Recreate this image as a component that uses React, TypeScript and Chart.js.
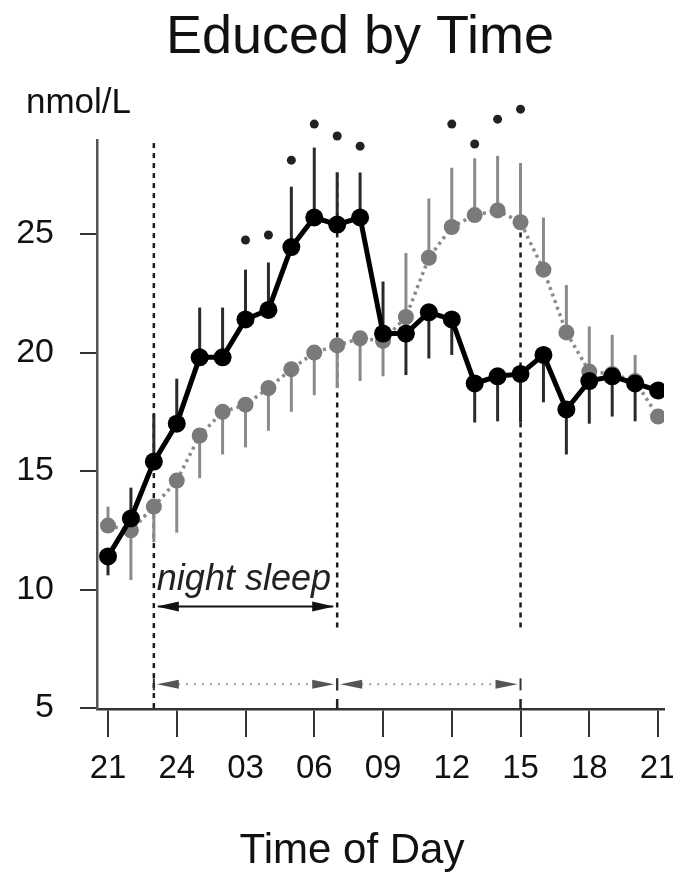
import React, { useEffect, useRef } from "react";
import { Chart, registerables } from "chart.js";

Chart.register(...registerables);

// ---- data ----
const hours = [21, 22, 23, 24, 25, 26, 27, 28, 29, 30, 31, 32, 33, 34, 35, 36, 37, 38, 39, 40, 41, 42, 43, 44, 45];
const xTickHours = [21, 24, 27, 30, 33, 36, 39, 42, 45];
const xTickLabels = ["21", "24", "03", "06", "09", "12", "15", "18", "21"];
const yTickValues = [5, 10, 15, 20, 25];

const groupA = [11.4, 13.0, 15.4, 17.0, 19.8, 19.8, 21.4, 21.8, 24.45, 25.7, 25.4, 25.7, 20.8, 20.8, 21.7, 21.4, 18.7, 19.0, 19.1, 19.9, 17.6, 18.8, 19.0, 18.7, 18.4];
const groupAErrUp = [0, 1.3, 2.0, 1.9, 2.1, 2.1, 2.1, 2.0, 2.55, 2.95, 2.2, 1.9, 2.2, 0, 0, 0, 0, 0, 0, 0, 0, 0, 0, 0, 0];
const groupAErrDown = [0.8, 0, 0, 0, 0, 0, 0, 0, 0, 0, 0, 0, 0, 1.75, 1.95, 1.5, 1.65, 1.9, 2.05, 2.0, 1.9, 1.8, 1.7, 1.6, 0];

const groupB = [12.7, 12.5, 13.5, 14.6, 16.5, 17.5, 17.8, 18.5, 19.3, 20.0, 20.3, 20.6, 20.5, 21.5, 24.0, 25.3, 25.8, 26.0, 25.5, 23.5, 20.85, 19.2, 19.1, 18.8, 17.3];
const groupBErrUp = [0.8, 0, 0, 0, 0, 0, 0, 0, 0, 0, 0, 0, 0, 2.7, 2.5, 2.5, 2.4, 2.3, 2.5, 2.2, 2.0, 1.9, 1.65, 1.1, 0];
const groupBErrDown = [0, 2.1, 1.5, 2.2, 1.8, 1.8, 1.8, 1.8, 1.8, 1.8, 1.8, 1.8, 1.5, 0, 0, 0, 0, 0, 0, 0, 0, 0, 0, 0, 0];

const sigHours = [27, 28, 29, 30, 31, 32, 36, 37, 38, 39];
const sigValues = [24.75, 24.96, 28.12, 29.64, 29.14, 28.71, 29.64, 28.8, 29.85, 30.27];

const refHours = [23, 31, 39];
const refTop = [28.84, 27.6, 27.6];
const refBottom = [4.96, 8.31, 8.31];

const sleepLabel = "night sleep";
const sleepArrowValue = 9.28;
const sleepTextValue = 10.0;
const periodArrowValue = 6.0;
const periodStarts = [23, 31];
const periodEnds = [31, 39];

const FONT = '"Liberation Sans", Arial, Helvetica, sans-serif';

function arrowHead(ctx: CanvasRenderingContext2D, tipX: number, tipY: number, dir: number, len: number, half: number) {
  ctx.beginPath();
  ctx.moveTo(tipX, tipY);
  ctx.lineTo(tipX - dir * len, tipY - half);
  ctx.lineTo(tipX - dir * len, tipY + half);
  ctx.closePath();
  ctx.fill();
}

const annotPlugin = {
  id: "annot",
  beforeDatasetsDraw(chart: any) {
    const { ctx, scales } = chart;
    const x = scales.x;
    const y = scales.y;
    ctx.save();
    // dashed reference lines
    ctx.strokeStyle = "#1a1a1a";
    ctx.lineWidth = 2.5;
    ctx.setLineDash([5, 5]);
    refHours.forEach((h, i) => {
      const px = x.getPixelForValue(h);
      ctx.beginPath();
      ctx.moveTo(px, y.getPixelForValue(refTop[i]));
      ctx.lineTo(px, y.getPixelForValue(refBottom[i]));
      ctx.stroke();
    });
    ctx.setLineDash([]);
    // error bars
    const drawBars = (vals: number[], up: number[], down: number[], color: string, w: number) => {
      ctx.strokeStyle = color;
      ctx.lineWidth = w;
      hours.forEach((h, i) => {
        const px = x.getPixelForValue(h);
        const v = vals[i];
        ctx.beginPath();
        ctx.moveTo(px, y.getPixelForValue(v - down[i]));
        ctx.lineTo(px, y.getPixelForValue(v + up[i]));
        ctx.stroke();
      });
    };
    drawBars(groupB, groupBErrUp, groupBErrDown, "#8a8a8a", 3);
    drawBars(groupA, groupAErrUp, groupAErrDown, "#2a2a2a", 3);
    // significance markers (may sit above the plotting area)
    ctx.fillStyle = "#222";
    sigHours.forEach((h, i) => {
      ctx.beginPath();
      ctx.arc(x.getPixelForValue(h), y.getPixelForValue(sigValues[i]), 4.5, 0, Math.PI * 2);
      ctx.fill();
    });
    ctx.restore();
  },
  afterDraw(chart: any) {
    const { ctx, scales } = chart;
    const x = scales.x;
    const y = scales.y;
    ctx.save();
    ctx.fillStyle = "#111";
    ctx.textBaseline = "alphabetic";
    // title
    ctx.font = `54px ${FONT}`;
    ctx.textAlign = "center";
    ctx.fillText("Educed by Time", 360, 53);
    // unit
    ctx.font = `35px ${FONT}`;
    ctx.textAlign = "left";
    ctx.fillText("nmol/L", 26, 113);
    // x title
    ctx.font = `42px ${FONT}`;
    ctx.textAlign = "center";
    ctx.fillText("Time of Day", 352, 863);

    // night sleep label + arrow
    const x0 = x.getPixelForValue(periodStarts[0]);
    const x1 = x.getPixelForValue(periodEnds[0]);
    ctx.font = `italic 36px ${FONT}`;
    ctx.textAlign = "left";
    ctx.fillStyle = "#222";
    ctx.fillText(sleepLabel, x0 + 3, y.getPixelForValue(sleepTextValue));
    const ay = y.getPixelForValue(sleepArrowValue);
    ctx.strokeStyle = "#111";
    ctx.fillStyle = "#111";
    ctx.lineWidth = 2;
    ctx.beginPath();
    ctx.moveTo(x0 + 4, ay);
    ctx.lineTo(x1 - 4, ay);
    ctx.stroke();
    arrowHead(ctx, x0 + 3, ay, -1, 22, 5);
    arrowHead(ctx, x1 - 3, ay, 1, 22, 5);

    // dotted period arrows
    const py = y.getPixelForValue(periodArrowValue);
    periodStarts.forEach((s, i) => {
      const a = x.getPixelForValue(s);
      const b = x.getPixelForValue(periodEnds[i]);
      ctx.strokeStyle = "#9a9a9a";
      ctx.lineWidth = 2;
      ctx.setLineDash([2, 6]);
      ctx.beginPath();
      ctx.moveTo(a + 24, py);
      ctx.lineTo(b - 24, py);
      ctx.stroke();
      ctx.setLineDash([]);
      ctx.fillStyle = "#555";
      arrowHead(ctx, a + 3, py, -1, 22, 4.5);
      arrowHead(ctx, b - 3, py, 1, 22, 4.5);
      ctx.strokeStyle = "#333";
      ctx.lineWidth = 2;
      [a, b].forEach((p) => {
        ctx.beginPath();
        ctx.moveTo(p, py - 6);
        ctx.lineTo(p, py + 6);
        ctx.stroke();
      });
    });
    // short marks above the axis at 7h and 15h
    ctx.strokeStyle = "#222";
    ctx.lineWidth = 2.5;
    refHours.slice(1).forEach((h) => {
      const p = x.getPixelForValue(h);
      ctx.beginPath();
      ctx.moveTo(p, y.bottom - 10);
      ctx.lineTo(p, y.bottom);
      ctx.stroke();
    });
    ctx.restore();
  },
};

export default function App() {
  const ref = useRef<HTMLCanvasElement | null>(null);
  useEffect(() => {
    if (!ref.current) return;
    const chart = new Chart(ref.current, {
      type: "line",
      data: {
        datasets: [
          {
            label: "A",
            data: hours.map((h, i) => ({ x: h, y: groupA[i] })),
            borderColor: "#000",
            borderWidth: 5,
            pointRadius: 9,
            pointBackgroundColor: "#000",
            pointBorderColor: "#000",
            pointBorderWidth: 0,
            tension: 0,
            order: 1,
          },
          {
            label: "B",
            data: hours.map((h, i) => ({ x: h, y: groupB[i] })),
            borderColor: "#8a8a8a",
            borderWidth: 3.5,
            borderDash: [3, 4],
            pointRadius: 8,
            pointBackgroundColor: "#7a7a7a",
            pointBorderColor: "#7a7a7a",
            pointBorderWidth: 0,
            tension: 0,
            order: 2,
          },
        ],
      },
      options: {
        animation: false,
        responsive: true,
        maintainAspectRatio: false,
        devicePixelRatio: 1,
        layout: { padding: { left: 0, right: 8, top: 140, bottom: 0 } },
        plugins: { legend: { display: false }, tooltip: { enabled: false }, title: { display: false } },
        scales: {
          x: {
            type: "linear",
            min: 20.52,
            max: 45.26,
            afterBuildTicks: (scale: any) => {
              scale.ticks = xTickHours.map((v) => ({ value: v }));
            },
            afterFit: (scale: any) => {
              scale.height = 169;
              scale.paddingLeft = 0;
              scale.paddingRight = 0;
            },
            ticks: {
              callback: (value: any) => {
                const i = xTickHours.indexOf(Number(value));
                return i >= 0 ? xTickLabels[i] : "";
              },
              font: { family: FONT, size: 33 },
              color: "#111",
              padding: 12,
              maxRotation: 0,
              autoSkip: false,
            },
            grid: { drawOnChartArea: false, drawTicks: true, tickLength: 28, color: "#333", lineWidth: 2 },
            border: { display: true, color: "#333", width: 2.5 },
          },
          y: {
            type: "linear",
            min: 4.96,
            max: 28.97,
            afterBuildTicks: (scale: any) => {
              scale.ticks = yTickValues.map((v) => ({ value: v }));
            },
            afterFit: (scale: any) => {
              scale.width = 97;
              scale.paddingTop = 0;
              scale.paddingBottom = 0;
            },
            ticks: {
              font: { family: FONT, size: 34 },
              color: "#111",
              padding: 26,
              autoSkip: false,
            },
            grid: { drawOnChartArea: false, drawTicks: true, tickLength: 17, color: "#333", lineWidth: 2 },
            border: { display: true, color: "#555", width: 2.5 },
          },
        },
      },
      plugins: [annotPlugin],
    });
    return () => chart.destroy();
  }, []);
  return (
    <div style={{ position: "fixed", left: 0, top: 0, width: 673, height: 878, background: "#fff" }}>
      <canvas ref={ref} />
    </div>
  );
}
